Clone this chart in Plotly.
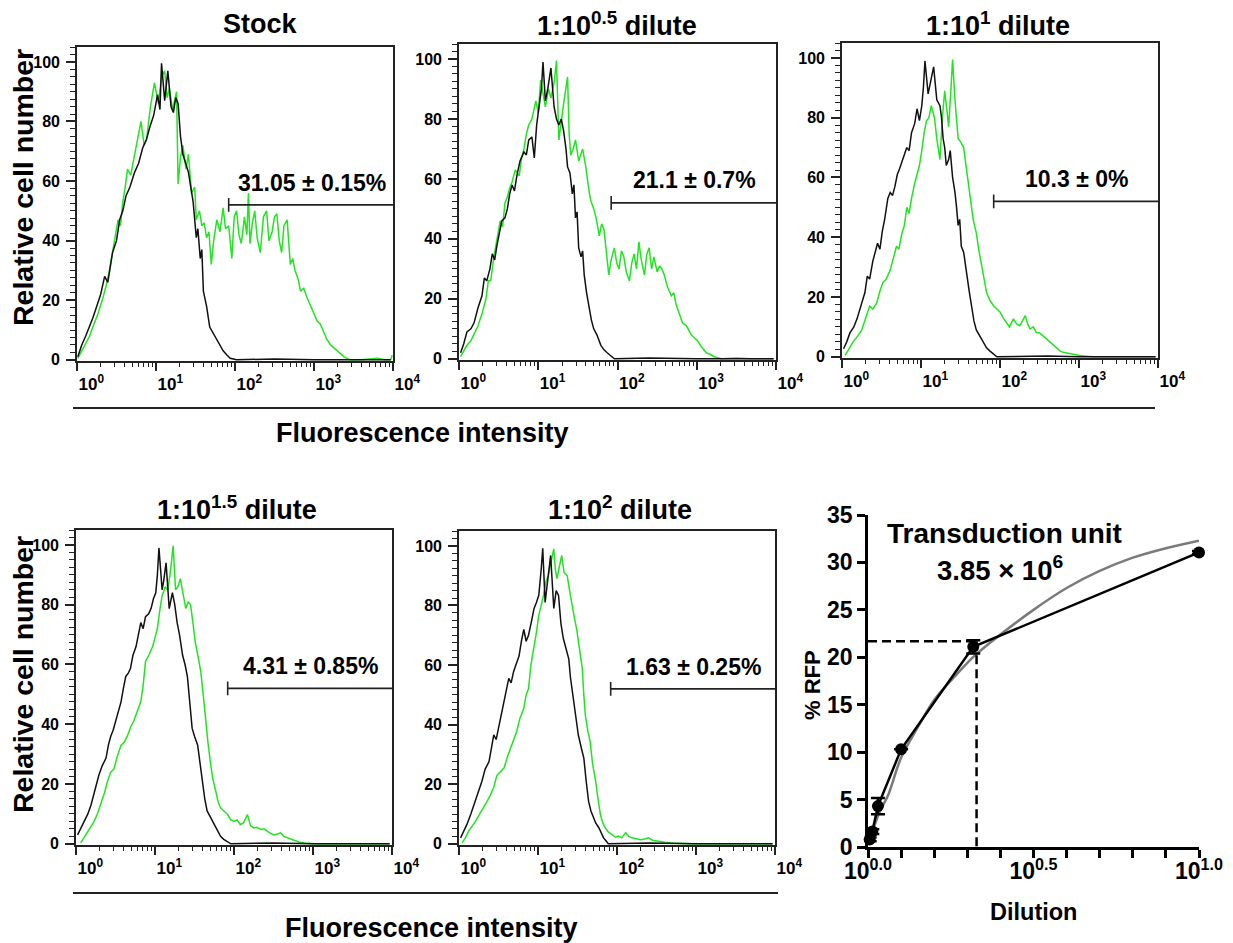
import plotly.graph_objects as go

# ---- flow cytometry histograms: (log10 fluorescence, relative cell number) ----
stock_ctrl = [(0.01, 1), (0.06, 5), (0.11, 8), (0.16, 11), (0.2, 14), (0.25, 18), (0.3, 22), (0.35, 28),
              (0.39, 26), (0.45, 36), (0.5, 40), (0.54, 47), (0.58, 50), (0.62, 55), (0.67, 58), (0.73, 63),
              (0.78, 66), (0.83, 71), (0.88, 74), (0.92, 78), (0.97, 82), (1.02, 89), (1.05, 84), (1.07, 99.5),
              (1.11, 87), (1.15, 97), (1.19, 85), (1.22, 83), (1.25, 88), (1.28, 86), (1.31, 75), (1.34, 69),
              (1.38, 66), (1.41, 63), (1.44, 58), (1.47, 53), (1.51, 41), (1.53, 44), (1.56, 34), (1.58, 37),
              (1.6, 23), (1.64, 18), (1.68, 11), (1.72, 9), (1.77, 7), (1.81, 5), (1.85, 3), (1.9, 1.5),
              (1.94, 0.5), (2.02, 0), (2.5, 0.3), (3.0, 0), (3.97, 0)]
stock_rfp = [(0.01, 0.5), (0.06, 3), (0.11, 6), (0.16, 8), (0.2, 11), (0.26, 15), (0.33, 21), (0.37, 25),
             (0.41, 30), (0.46, 38), (0.52, 47), (0.55, 45), (0.58, 53), (0.61, 58), (0.64, 64), (0.68, 62),
             (0.73, 69), (0.77, 74), (0.81, 80), (0.85, 72), (0.88, 74), (0.93, 85), (0.98, 93), (1.03, 86),
             (1.07, 95), (1.11, 97), (1.14, 88), (1.17, 91), (1.21, 84), (1.26, 90), (1.28, 59), (1.31, 68),
             (1.34, 72), (1.38, 64), (1.41, 69), (1.45, 56), (1.49, 58), (1.51, 47), (1.55, 50), (1.58, 45),
             (1.61, 46), (1.64, 41), (1.67, 43), (1.7, 32), (1.73, 40), (1.77, 47), (1.81, 43), (1.85, 51),
             (1.88, 44), (1.92, 45), (1.96, 34), (1.99, 48), (2.02, 50), (2.05, 42), (2.08, 39), (2.12, 48),
             (2.15, 42), (2.17, 56), (2.19, 39), (2.22, 46), (2.25, 50), (2.28, 41), (2.32, 36), (2.36, 48),
             (2.4, 50), (2.43, 40), (2.47, 43), (2.5, 48), (2.53, 49), (2.56, 40), (2.59, 36), (2.62, 45),
             (2.66, 47), (2.7, 32), (2.73, 34), (2.76, 30), (2.8, 27), (2.83, 23), (2.87, 24), (2.91, 21),
             (2.94, 19), (2.97, 17), (3.0, 15), (3.04, 13), (3.08, 12), (3.12, 9.5), (3.16, 7), (3.21, 5),
             (3.25, 4), (3.29, 3), (3.33, 2), (3.38, 1), (3.42, 0.5), (3.46, 0), (3.6, 0), (3.7, 0.3),
             (3.8, 0.5), (3.9, 0), (3.97, 0), (3.99, 1.5)]

d05_ctrl = [(0.02, 2), (0.06, 5), (0.1, 9), (0.15, 10), (0.19, 12), (0.24, 17), (0.29, 21), (0.32, 27),
            (0.35, 26), (0.39, 30), (0.42, 35), (0.45, 33), (0.48, 38), (0.51, 42), (0.54, 46), (0.58, 47),
            (0.61, 50), (0.64, 55), (0.67, 58), (0.7, 56), (0.73, 61), (0.77, 66), (0.82, 69), (0.85, 68),
            (0.88, 73), (0.92, 74), (0.95, 67), (0.98, 78), (1.01, 84), (1.04, 90), (1.06, 99), (1.09, 86),
            (1.12, 90), (1.16, 97), (1.2, 84), (1.23, 80), (1.26, 78), (1.29, 80), (1.32, 76), (1.35, 70),
            (1.37, 64), (1.4, 62), (1.43, 55), (1.45, 58), (1.47, 47), (1.49, 49), (1.51, 37), (1.54, 34),
            (1.56, 36), (1.58, 28), (1.61, 22), (1.64, 17), (1.67, 13), (1.7, 10), (1.74, 8), (1.79, 4.5),
            (1.83, 3), (1.87, 2), (1.91, 1), (1.96, 0), (2.4, 0.3), (3.0, 0), (3.97, 0)]
d05_rfp = [(0.02, 0.7), (0.06, 2.5), (0.1, 4.5), (0.15, 6), (0.19, 8), (0.24, 11), (0.29, 15), (0.34, 20),
           (0.37, 26), (0.4, 26), (0.44, 34), (0.48, 40), (0.52, 46), (0.55, 44), (0.58, 52), (0.61, 54),
           (0.64, 57), (0.67, 59), (0.71, 63), (0.76, 61), (0.79, 67), (0.82, 70), (0.85, 75), (0.88, 78),
           (0.92, 80), (0.97, 86), (1.0, 82), (1.03, 93), (1.06, 88), (1.09, 84), (1.13, 90), (1.16, 87),
           (1.2, 92), (1.23, 99.5), (1.26, 73), (1.29, 80), (1.32, 85), (1.37, 94), (1.39, 75), (1.41, 68),
           (1.44, 70), (1.47, 73), (1.51, 66), (1.56, 70), (1.6, 64), (1.63, 58), (1.66, 53), (1.7, 50),
           (1.73, 47), (1.77, 41), (1.8, 45), (1.83, 43), (1.86, 36), (1.89, 28), (1.92, 33), (1.96, 37),
           (1.99, 32), (2.02, 30), (2.05, 36), (2.08, 34), (2.11, 29), (2.15, 26), (2.18, 32), (2.21, 35),
           (2.24, 30), (2.27, 39), (2.3, 33), (2.34, 28), (2.37, 35), (2.4, 37), (2.43, 30), (2.46, 34),
           (2.5, 29), (2.53, 31), (2.56, 30), (2.59, 28), (2.63, 24), (2.68, 21), (2.71, 22), (2.74, 18),
           (2.78, 15), (2.82, 12), (2.87, 11), (2.93, 8), (2.97, 7), (3.01, 6), (3.06, 4), (3.12, 2),
           (3.17, 1.5), (3.22, 0.7), (3.31, 0), (3.5, 0.3), (3.69, 0), (3.97, 0)]

d1_ctrl = [(0.02, 2.7), (0.06, 5), (0.1, 8), (0.15, 10), (0.19, 12.7), (0.24, 17), (0.29, 21.5), (0.32, 27),
           (0.35, 26), (0.39, 32), (0.42, 35), (0.45, 38), (0.48, 36), (0.51, 42), (0.54, 46), (0.58, 53),
           (0.61, 55), (0.64, 54), (0.67, 57), (0.7, 61), (0.73, 63), (0.77, 66), (0.82, 70), (0.85, 69),
           (0.88, 75), (0.92, 78), (0.95, 83), (0.98, 79), (1.01, 84), (1.03, 90), (1.05, 99), (1.09, 88),
           (1.12, 92), (1.16, 97), (1.2, 86), (1.24, 84), (1.26, 80), (1.28, 73), (1.3, 70), (1.32, 64),
           (1.35, 66), (1.37, 69), (1.4, 60), (1.43, 55), (1.45, 50), (1.47, 44), (1.49, 46), (1.51, 37),
           (1.54, 35), (1.56, 31), (1.58, 28), (1.61, 22), (1.64, 17), (1.67, 12), (1.7, 9), (1.74, 7),
           (1.79, 5), (1.83, 3), (1.87, 2), (1.91, 1), (1.96, 0), (2.6, 0.3), (3.0, 0), (3.97, 0)]
d1_rfp = [(0.04, 0.5), (0.09, 3), (0.14, 5), (0.2, 7), (0.25, 9), (0.3, 13), (0.35, 17), (0.39, 16),
          (0.44, 18), (0.48, 22), (0.52, 25), (0.56, 26), (0.61, 29), (0.65, 33), (0.69, 37), (0.72, 36),
          (0.76, 41.5), (0.79, 44), (0.82, 50), (0.85, 48), (0.88, 53), (0.92, 58), (0.95, 61.5), (0.98, 64),
          (1.01, 69), (1.04, 75), (1.07, 79), (1.1, 80), (1.13, 84), (1.17, 80), (1.2, 73), (1.22, 70),
          (1.24, 66), (1.27, 80), (1.3, 89), (1.33, 82), (1.35, 77), (1.38, 90), (1.4, 99.5), (1.43, 86),
          (1.45, 80), (1.47, 73), (1.5, 72), (1.54, 70), (1.57, 64), (1.6, 57), (1.63, 52), (1.66, 46),
          (1.7, 41.5), (1.73, 36), (1.77, 30), (1.8, 25), (1.83, 21.5), (1.87, 19), (1.92, 17), (1.96, 16),
          (2.0, 15), (2.04, 13), (2.08, 11.5), (2.12, 10), (2.17, 12.7), (2.21, 11), (2.25, 10.4), (2.28, 12),
          (2.32, 13.8), (2.35, 11), (2.38, 9.3), (2.42, 10), (2.46, 8.2), (2.5, 8), (2.55, 7), (2.59, 6),
          (2.63, 5), (2.67, 4), (2.72, 2.7), (2.76, 2), (2.8, 1.5), (2.85, 1.2), (2.89, 1), (2.95, 0.8),
          (3.01, 0.4), (3.1, 0.2), (3.18, 0), (3.97, 0)]

d15_ctrl = [(0.02, 3), (0.06, 5), (0.1, 7.5), (0.15, 10), (0.19, 13), (0.24, 18), (0.29, 23), (0.33, 26),
            (0.38, 28.7), (0.41, 33), (0.44, 36), (0.47, 38), (0.5, 41), (0.54, 45), (0.57, 47.5), (0.6, 52),
            (0.63, 56), (0.66, 57), (0.69, 58.7), (0.72, 63), (0.76, 66), (0.79, 70), (0.82, 74), (0.85, 72),
            (0.88, 76), (0.92, 77), (0.95, 78.7), (0.98, 82), (1.01, 84), (1.03, 90), (1.05, 99), (1.09, 85),
            (1.11, 88), (1.14, 94), (1.16, 85), (1.18, 78.7), (1.22, 84), (1.25, 80), (1.28, 74), (1.31, 70),
            (1.35, 63), (1.38, 60), (1.41, 56), (1.44, 48), (1.47, 38.7), (1.5, 36), (1.54, 33), (1.57, 27),
            (1.6, 21), (1.63, 15), (1.66, 11), (1.7, 9), (1.73, 7.5), (1.76, 6), (1.79, 4), (1.83, 2.5),
            (1.87, 1.5), (1.91, 0.7), (1.96, 0), (2.5, 0.3), (3.0, 0), (3.97, 0)]
d15_rfp = [(0.06, 0.3), (0.1, 2), (0.14, 4), (0.19, 6), (0.23, 7.5), (0.27, 10), (0.31, 13), (0.36, 17),
           (0.4, 21), (0.44, 24), (0.48, 25), (0.52, 29), (0.57, 33), (0.61, 34), (0.65, 36), (0.69, 39),
           (0.73, 41), (0.77, 44), (0.82, 47.5), (0.85, 53), (0.88, 61), (0.92, 63), (0.97, 66), (1.0, 69),
           (1.03, 72), (1.06, 78), (1.09, 83), (1.13, 86), (1.16, 85), (1.19, 90), (1.23, 99.7), (1.26, 85),
           (1.29, 86), (1.32, 88.7), (1.35, 84), (1.39, 78.7), (1.42, 81), (1.45, 80), (1.48, 74), (1.51, 67.5),
           (1.55, 62), (1.58, 57.5), (1.61, 50), (1.64, 41), (1.67, 34), (1.7, 27.5), (1.73, 22), (1.77, 17.5),
           (1.8, 14), (1.83, 12), (1.87, 11), (1.92, 9.8), (1.96, 8), (2.0, 7.5), (2.04, 8), (2.08, 6.4),
           (2.12, 7), (2.17, 9.8), (2.21, 6), (2.25, 5.3), (2.29, 5.5), (2.34, 4.8), (2.38, 5), (2.42, 4.2),
           (2.46, 3.5), (2.51, 3), (2.55, 3.3), (2.59, 3.7), (2.63, 2.5), (2.68, 2), (2.72, 1.5), (2.76, 1),
           (2.82, 0.6), (2.89, 0.3), (3.01, 0), (3.35, 0), (3.97, 0)]

d2_ctrl = [(0.02, 2), (0.06, 4), (0.1, 6.5), (0.15, 10), (0.19, 13), (0.24, 17), (0.29, 21), (0.33, 25),
           (0.38, 27.6), (0.41, 32), (0.44, 36.6), (0.47, 35), (0.5, 38.8), (0.54, 44), (0.57, 47.7), (0.6, 52),
           (0.63, 55.5), (0.66, 54), (0.69, 57.7), (0.72, 60), (0.76, 63), (0.79, 68), (0.82, 72), (0.85, 68),
           (0.88, 70), (0.92, 75), (0.95, 79), (0.98, 81), (1.01, 83.4), (1.04, 92), (1.06, 99.2), (1.09, 81),
           (1.12, 88), (1.16, 96.8), (1.2, 79), (1.23, 85), (1.26, 83.4), (1.29, 74), (1.32, 69), (1.35, 66),
           (1.39, 62), (1.41, 56), (1.43, 52), (1.45, 48), (1.47, 43), (1.49, 40), (1.51, 36.6), (1.55, 32),
           (1.58, 28.8), (1.61, 21), (1.64, 14.3), (1.67, 11), (1.7, 8.7), (1.73, 7), (1.77, 5.4), (1.8, 3.5),
           (1.83, 2), (1.86, 1), (1.89, 0), (2.4, 0.3), (3.0, 0), (3.97, 0)]
d2_rfp = [(0.04, 0.3), (0.08, 2), (0.12, 4.2), (0.17, 6), (0.21, 7.6), (0.26, 10), (0.31, 12), (0.35, 14),
          (0.4, 16.5), (0.44, 19), (0.48, 23), (0.52, 24), (0.57, 25.4), (0.61, 29), (0.65, 32), (0.69, 35),
          (0.73, 37.7), (0.77, 42), (0.82, 45.5), (0.85, 50), (0.88, 52), (0.91, 60), (0.95, 65.6), (0.98, 71),
          (1.01, 76.7), (1.04, 80), (1.07, 83.4), (1.1, 88), (1.13, 90), (1.16, 94), (1.2, 99), (1.22, 92),
          (1.24, 89), (1.27, 93), (1.3, 96.8), (1.33, 91), (1.37, 90), (1.4, 85), (1.43, 80), (1.46, 76),
          (1.49, 72), (1.52, 66), (1.56, 59), (1.58, 50), (1.6, 43), (1.63, 38), (1.66, 34.3), (1.69, 27),
          (1.73, 21), (1.76, 15), (1.79, 9.8), (1.82, 7), (1.85, 5.4), (1.89, 4), (1.94, 3.1), (1.98, 2.2),
          (2.02, 2.6), (2.06, 2), (2.11, 3.7), (2.15, 2.5), (2.19, 2), (2.24, 1.8), (2.3, 1.4), (2.35, 1.6),
          (2.4, 2), (2.45, 1.2), (2.51, 0.9), (2.6, 0.5), (2.68, 0.3), (2.8, 0.2), (2.93, 0), (3.97, 0)]

hist_titles = ["Stock", "1:10<sup>0.5</sup> dilute", "1:10<sup>1</sup> dilute",
               "1:10<sup>1.5</sup> dilute", "1:10<sup>2</sup> dilute"]
gate_labels = ["31.05 ± 0.15%", "21.1 ± 0.7%", "10.3 ± 0%", "4.31 ± 0.85%", "1.63 ± 0.25%"]
gate_start = 1.92   # log10 fluorescence where the positive gate begins
gate_level = 52

# ---- titration curve ----
rfp_log_dilution = [0.005, 0.013, 0.03, 0.1, 0.318, 1.0]
rfp_percent = [0.8, 1.63, 4.31, 10.3, 21.1, 31.05]
rfp_sd = [0.2, 0.25, 0.85, 0.0, 0.7, 0.15]
fit_log_dilution = [0.0, 0.005, 0.015, 0.035, 0.06, 0.1, 0.15, 0.2, 0.26, 0.32, 0.4, 0.5,
                    0.6, 0.7, 0.8, 0.9, 1.0]
fit_percent = [0.5, 0.9, 1.8, 3.7, 5.4, 9.4, 12.6, 15.5, 17.9, 20.1, 22.4, 25.0,
               27.3, 29.1, 30.5, 31.5, 32.3]
tu_log_dilution = 0.328
tu_percent = 21.7

# the page body adds an 8 px margin, so the figure is sized to fill the rest
PAGE_W, PAGE_H, OFF = 1233, 943, 8
W, H = PAGE_W - OFF, PAGE_H - OFF
FONT = "Liberation Sans, Arial, Helvetica, sans-serif"
GREEN = "#1fe61f"
BLACK = "#111111"


def fx(px):
    return (px - OFF) / W


def fy(py):
    return 1 - (py - OFF) / H


# pixel boxes (left, right, top, bottom) of the five histogram frames on the page
HIST_BOXES = [(77, 393, 47, 361), (459, 776, 44, 360), (842, 1158, 43, 358),
              (76, 392, 530, 845), (459, 775, 531, 845)]
TITLE_POS = [(260, 24), (617, 24), (998, 24), (237, 508), (620, 508)]

hist_data = [(stock_ctrl, stock_rfp), (d05_ctrl, d05_rfp), (d1_ctrl, d1_rfp),
             (d15_ctrl, d15_rfp), (d2_ctrl, d2_rfp)]

fig = go.Figure()
layout = {}
shapes = []
annotations = []


def bold(size):
    return dict(family=FONT, size=size, color="black", weight="bold")


def label(px, py, text, size, **kw):
    return dict(xref="paper", yref="paper", x=fx(px), y=fy(py), text=text,
                xanchor="center", yanchor="middle", showarrow=False, font=bold(size), **kw)


for i, (ctrl, rfp) in enumerate(hist_data, start=1):
    ax = "" if i == 1 else str(i)
    for series, color in ((rfp, GREEN), (ctrl, BLACK)):
        lx, ly = zip(*series)
        fig.add_trace(go.Scatter(
            x=[10 ** v for v in lx], y=list(ly), mode="lines",
            line=dict(color=color, width=1.5),
            xaxis="x" + ax, yaxis="y" + ax, showlegend=False, hoverinfo="skip"))

    left, right, top, bottom = HIST_BOXES[i - 1]
    layout["xaxis" + ax] = dict(
        domain=[fx(left), fx(right)], anchor="y" + ax, type="log", range=[0, 4],
        tickvals=[1, 10, 100, 1000, 10000],
        ticktext=["10<sup>%d</sup>" % k for k in range(5)],
        ticklabelposition="outside right", ticklabelstandoff=7, automargin=False,
        ticks="outside", ticklen=8, tickwidth=1.5, tickcolor="#222",
        minor=dict(ticks="outside", ticklen=4, tickwidth=1.2, tickcolor="#222", dtick="D1"),
        showline=True, mirror=True, linecolor="#222", linewidth=1.6,
        showgrid=False, zeroline=False, tickfont=bold(17))
    layout["yaxis" + ax] = dict(
        domain=[fy(bottom), fy(top)], anchor="x" + ax, range=[-0.4, 105],
        tickvals=[0, 20, 40, 60, 80, 100], automargin=False, ticklabelstandoff=3,
        ticks="outside", ticklen=9, tickwidth=1.5, tickcolor="#222",
        minor=dict(ticks="outside", ticklen=5, tickwidth=1.2, tickcolor="#222", dtick=2.5),
        showline=True, mirror=True, linecolor="#222", linewidth=1.6,
        showgrid=False, zeroline=False, tickfont=bold(16))

    # positive gate marker (shapes take data values on log axes)
    g0 = 10 ** gate_start
    shapes.append(dict(type="line", xref="x" + ax, yref="y" + ax, x0=g0, x1=10 ** 4,
                       y0=gate_level, y1=gate_level, line=dict(color="#222", width=1.6)))
    shapes.append(dict(type="line", xref="x" + ax, yref="y" + ax, x0=g0, x1=g0,
                       y0=gate_level - 2.3, y1=gate_level + 2.3, line=dict(color="#222", width=1.6)))
    annotations.append(dict(xref="x" + ax, yref="y" + ax, x=2.97, y=59.5, text=gate_labels[i - 1],
                            xanchor="center", yanchor="middle", showarrow=False, font=bold(23)))
    tx, ty = TITLE_POS[i - 1]
    annotations.append(label(tx, ty, hist_titles[i - 1], 27))

# row labels
for cy in (188, 675):
    annotations.append(label(23, cy, "Relative cell number", 28.5, textangle=-90))
for cx, cy in ((422, 433), (431, 928)):
    annotations.append(label(cx, cy, "Fluorescence intensity", 27))
shapes.append(dict(type="line", xref="paper", yref="paper", x0=fx(73), x1=fx(1155),
                   y0=fy(408), y1=fy(408), line=dict(color="#222", width=2)))
shapes.append(dict(type="line", xref="paper", yref="paper", x0=fx(73), x1=fx(778),
                   y0=fy(893), y1=fy(893), line=dict(color="#222", width=2)))

# ---- titration panel ----
fig.add_trace(go.Scatter(x=fit_log_dilution, y=fit_percent, mode="lines",
                         line=dict(color="#7a7a7a", width=2.5, shape="spline"),
                         xaxis="x6", yaxis="y6", showlegend=False, cliponaxis=False))
fig.add_trace(go.Scatter(x=rfp_log_dilution, y=rfp_percent, mode="lines+markers",
                         line=dict(color="black", width=2.5),
                         marker=dict(color="black", size=12),
                         error_y=dict(type="data", array=rfp_sd, color="black", thickness=2.5, width=7),
                         xaxis="x6", yaxis="y6", showlegend=False, cliponaxis=False))
shapes.append(dict(type="line", xref="x6", yref="y6", x0=0, x1=tu_log_dilution, y0=tu_percent, y1=tu_percent,
                   line=dict(color="black", width=2.5, dash="9px,5px")))
shapes.append(dict(type="line", xref="x6", yref="y6", x0=tu_log_dilution, x1=tu_log_dilution, y0=tu_percent, y1=0,
                   line=dict(color="black", width=2.5, dash="9px,5px")))

dil_ticks = [k / 10 for k in range(11)]
layout["xaxis6"] = dict(
    domain=[fx(868), fx(1199)], anchor="y6", range=[0, 1], automargin=False,
    tickvals=dil_ticks,
    ticktext=["10<sup>%.1f</sup>" % v if v in (0, 0.5, 1.0) else "" for v in dil_ticks],
    ticklabelstandoff=-6,
    ticks="outside", ticklen=8, tickwidth=2.5, tickcolor="black",
    showline=True, linecolor="black", linewidth=2.5, showgrid=False, zeroline=False,
    tickfont=bold(23))
layout["yaxis6"] = dict(
    domain=[fy(847), fy(515)], anchor="x6", range=[0, 35], dtick=5, automargin=False,
    ticks="outside", ticklen=8, tickwidth=2.5, tickcolor="black",
    showline=True, linecolor="black", linewidth=2.5, showgrid=False, zeroline=False,
    tickfont=bold(23))

annotations += [
    label(1004, 533, "Transduction unit", 28),
    label(1000, 568, "3.85 × 10<sup>6</sup>", 27.5),
    label(1033, 912, "Dilution", 23.5),
    label(812, 685, "% RFP", 22, textangle=-90),
]

fig.update_layout(
    width=W, height=H, margin=dict(l=0, r=0, t=0, b=0, autoexpand=False),
    paper_bgcolor="white", plot_bgcolor="white",
    shapes=shapes, annotations=annotations, **layout)

fig.write_html("out.html")
